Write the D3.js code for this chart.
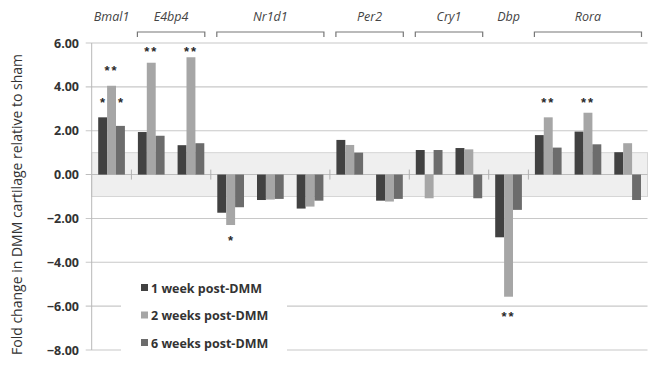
<!DOCTYPE html>
<html><head><meta charset="utf-8">
<script src="https://cdn.jsdelivr.net/npm/d3@7"></script>
<style>body{margin:0;background:#fff}svg{display:block}text{-webkit-font-smoothing:antialiased}</style>
</head><body><svg id="c" width="652" height="376"></svg>
<script>
const slots = ["Bmal1","E4bp4","E4bp4","Nr1d1","Nr1d1","Nr1d1","Per2","Per2","Cry1","Cry1","Dbp","Rora","Rora","Rora"];
const genes = ["Bmal1","E4bp4","Nr1d1","Per2","Cry1","Dbp","Rora"];
const seriesNames = ["1 week post-DMM","2 weeks post-DMM","6 weeks post-DMM"];
const week1 = [2.61,1.94,1.34,-1.74,-1.16,-1.55,1.58,-1.19,1.12,1.21,-2.86,1.80,1.96,1.02];
const week2 = [4.05,5.10,5.35,-2.30,-1.14,-1.46,1.35,-1.23,-1.08,1.15,-5.57,2.61,2.82,1.43];
const week6 = [2.22,1.77,1.43,-1.49,-1.11,-1.19,1.00,-1.11,1.12,-1.08,-1.61,1.23,1.38,-1.16];
const yTicks = [6,4,2,0,-2,-4,-6,-8];
const bracketGenes = ["E4bp4","Nr1d1","Per2","Cry1","Rora"];
// significance marks: slot index, series index, text, value position
const marks = [
  {slot:0,s:0,t:"*",v:3.4},{slot:0,s:1,t:"**",v:4.86},{slot:0,s:2,t:"*",v:3.4},
  {slot:1,s:1,t:"**",v:5.73},{slot:2,s:1,t:"**",v:5.73},
  {slot:3,s:1,t:"*",v:-2.89},{slot:10,s:1,t:"**",v:-6.36},
  {slot:11,s:1,t:"**",v:3.4},{slot:12,s:1,t:"**",v:3.4}
];
const colors = ["#414141","#a6a6a6","#6c6c6c"];

const svg = d3.select("#c");
const L = 91.7, R = 647.5;
const y = d3.scaleLinear().domain([-8,6]).range([350,43]);
const x = d3.scaleBand().domain(d3.range(slots.length)).range([L,R]).paddingInner(0).paddingOuter(0);
const xs = d3.scaleBand().domain([0,1,2]).range([0,x.bandwidth()]).paddingInner(0).paddingOuter(0.73);
const series = [week1,week2,week6];

// band -1..1
svg.append("rect").attr("x",L).attr("width",R-L).attr("y",y(1)).attr("height",y(-1)-y(1))
  .attr("fill","#efefef").attr("stroke","#d6d6d6").attr("stroke-width",1);

// gridlines
svg.append("g").selectAll("line").data(yTicks).join("line")
  .attr("x1",L-6).attr("x2",R).attr("y1",d=>y(d)).attr("y2",d=>y(d))
  .attr("stroke",d=>d===0?"#bdbdbd":"#c8c8c8").attr("stroke-width",1.1);

// y axis line
svg.append("line").attr("x1",L).attr("x2",L).attr("y1",y(6)).attr("y2",y(-8)).attr("stroke","#b8b8b8").attr("stroke-width",1);

// tick labels
svg.append("g").selectAll("text").data(yTicks).join("text")
  .attr("x",79).attr("y",d=>y(d)+4.5).attr("text-anchor","end")
  .attr("font-family","Open Sans, sans-serif").attr("font-weight","bold").attr("font-size",12.5)
  .attr("fill","#333").text(d=>d3.format(".2f")(d));

// category boundary ticks
const bounds = [];
for(let i=1;i<slots.length;i++) if(slots[i]!==slots[i-1]) bounds.push(i);
svg.append("g").selectAll("line").data(bounds).join("line")
  .attr("x1",d=>x(d)).attr("x2",d=>x(d)).attr("y1",y(0)-5).attr("y2",y(0)+5)
  .attr("stroke","#b0b0b0").attr("stroke-width",1);

// bars
series.forEach((vals,si)=>{
  svg.append("g").selectAll("rect").data(vals).join("rect")
    .attr("x",(d,i)=>x(i)+xs(si)).attr("width",xs.bandwidth())
    .attr("y",d=>y(Math.max(0,d))).attr("height",d=>Math.abs(y(d)-y(0)))
    .attr("fill",colors[si]);
});

// legend background and entries
svg.append("rect").attr("x",121).attr("y",271).attr("width",166).attr("height",87).attr("fill","#fff");
const lg = svg.append("g").selectAll("g").data(seriesNames).join("g")
  .attr("transform",(d,i)=>`translate(141,${288+i*27.5})`);
lg.append("rect").attr("x",0).attr("y",-4).attr("width",7).attr("height",7).attr("fill",(d,i)=>colors[i]);
lg.append("text").attr("x",10).attr("y",4.5).attr("font-family","Open Sans, sans-serif")
  .attr("font-weight","bold").attr("font-size",12.5).attr("fill","#333").text(d=>d);

// gene labels and brackets
genes.forEach(g=>{
  const idx = slots.map((s,i)=>s===g?i:-1).filter(i=>i>=0);
  const x0 = x(idx[0]), x1 = x(idx[idx.length-1])+x.bandwidth();
  const cx = (x0+x1)/2;
  svg.append("text").attr("x",cx).attr("y",21).attr("text-anchor","middle")
    .attr("font-family","Open Sans, sans-serif").attr("font-style","italic").attr("font-size",12.5)
    .attr("fill","#444").text(g);
  if(bracketGenes.includes(g)){
    const a = x0+6, b = x1-6;
    svg.append("path").attr("d",`M${a},37V32H${b}V37`).attr("fill","none").attr("stroke","#777").attr("stroke-width",1.2);
  }
});

// significance marks
svg.append("g").selectAll("text").data(marks).join("text")
  .attr("x",d=>x(d.slot)+xs(d.s)+xs.bandwidth()/2).attr("y",d=>y(d.v)+7)
  .attr("text-anchor","middle").attr("font-family","Liberation Sans, sans-serif").attr("font-weight","bold")
  .attr("font-size",13).attr("letter-spacing",d=>d.t.length>1?"2px":"0").attr("fill","#2a2a2a").text(d=>d.t);

// y label
svg.append("text").attr("transform",`translate(22,${(y(6)+y(-8))/2+8}) rotate(-90)`)
  .attr("text-anchor","middle").attr("font-family","Open Sans, sans-serif").attr("font-size",14)
  .attr("fill","#333").text("Fold change in DMM cartilage relative to sham");
</script></body></html>
